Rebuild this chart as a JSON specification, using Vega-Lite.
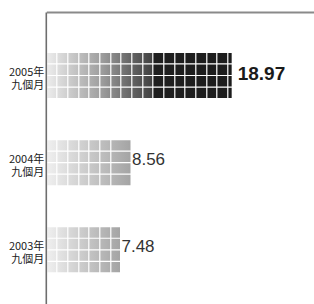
{
  "$schema": "https://vega.github.io/schema/vega-lite/v6.json",
  "width": 267,
  "height": 292,
  "autosize": {"type": "none"},
  "padding": {"left": 47.3, "top": 12, "right": 0, "bottom": 0},
  "background": "white",
  "config": {"view": {"stroke": null}},
  "data": {
    "values": [
      {"period": "2005年 九個月", "value": 18.97, "strip": 1},
      {"period": "2005年 九個月", "value": 18.97, "strip": 2},
      {"period": "2005年 九個月", "value": 18.97, "strip": 3},
      {"period": "2005年 九個月", "value": 18.97, "strip": 4},
      {"period": "2004年 九個月", "value": 8.56, "strip": 1},
      {"period": "2004年 九個月", "value": 8.56, "strip": 2},
      {"period": "2004年 九個月", "value": 8.56, "strip": 3},
      {"period": "2004年 九個月", "value": 8.56, "strip": 4},
      {"period": "2003年 九個月", "value": 7.48, "strip": 1},
      {"period": "2003年 九個月", "value": 7.48, "strip": 2},
      {"period": "2003年 九個月", "value": 7.48, "strip": 3},
      {"period": "2003年 九個月", "value": 7.48, "strip": 4}
    ]
  },
  "encoding": {
    "y": {
      "field": "period",
      "type": "nominal",
      "scale": {
        "domain": ["2005年 九個月", "2004年 九個月", "2003年 九個月"],
        "paddingInner": 0.4837,
        "paddingOuter": 0.4171,
        "align": 0.564
      },
      "axis": {
        "title": null,
        "orient": "left",
        "domain": true,
        "domainColor": "#6e6e6e",
        "domainWidth": 1.6,
        "offset": 1.5,
        "ticks": false,
        "grid": false,
        "labelPadding": 2,
        "labelFont": "Noto Sans CJK TC",
        "labelFontSize": 11,
        "labelColor": "#222222",
        "labelLineHeight": 13,
        "labelOffset": -3,
        "labelExpr": "split(datum.label, ' ')",
        "zindex": 2
      }
    },
    "x": {
      "field": "value",
      "type": "quantitative",
      "scale": {"domain": [0, 27.47], "nice": false, "zero": true},
      "axis": {
        "title": null,
        "orient": "top",
        "labels": false,
        "ticks": false,
        "domain": true,
        "domainColor": "#8a8a8a",
        "domainWidth": 2,
        "domainCap": "square",
        "grid": true,
        "gridColor": "#ffffff",
        "gridWidth": 1.2,
        "gridOpacity": 1,
        "gridDash": {"condition": {"test": "datum.value > 7.5", "value": [0, 39, 49, 400]}, "value": [0, 39, 49, 38, 49, 38, 49, 400]},
        "values": [0.967, 2.065, 3.162, 4.26, 5.358, 6.456, 7.553, 8.651, 9.749, 10.846, 11.944, 13.042, 14.139, 15.237, 16.335, 17.433, 18.53],
        "zindex": 1
      }
    }
  },
  "layer": [
    {
      "transform": [{"filter": "datum.period == '2005年 九個月'"}],
      "mark": {
        "type": "bar",
        "color": {
          "gradient": "linear",
          "x1": 0, "x2": 1, "y1": 0, "y2": 0,
          "stops": [
            {"offset": 0, "color": "#ececec"},
            {"offset": 0.3, "color": "#9c9c9c"},
            {"offset": 0.45, "color": "#666666"},
            {"offset": 0.565, "color": "#434343"},
            {"offset": 0.572, "color": "#1f1f1f"},
            {"offset": 1, "color": "#1c1c1c"}
          ]
        }
      },
      "encoding": {
        "yOffset": {"field": "strip", "type": "ordinal", "scale": {"paddingInner": 0.107, "paddingOuter": 0}}
      }
    },
    {
      "transform": [{"filter": "datum.period != '2005年 九個月'"}],
      "mark": {
        "type": "bar",
        "color": {
          "gradient": "linear",
          "x1": 0, "x2": 1, "y1": 0, "y2": 0,
          "stops": [
            {"offset": 0, "color": "#efefef"},
            {"offset": 1, "color": "#a4a4a4"}
          ]
        }
      },
      "encoding": {
        "yOffset": {"field": "strip", "type": "ordinal", "scale": {"paddingInner": 0.107, "paddingOuter": 0}}
      }
    },
    {
      "transform": [{"filter": "datum.strip == 1 && datum.period == '2005年 九個月'"}],
      "mark": {"type": "text", "align": "left", "baseline": "middle", "dx": 6, "dy": -1.5, "font": "Liberation Sans", "fontWeight": "bold", "fontSize": 19, "color": "#1a1a1a"},
      "encoding": {"text": {"field": "value", "type": "quantitative", "format": ".2f"}}
    },
    {
      "transform": [{"filter": "datum.strip == 1 && datum.period != '2005年 九個月'"}],
      "mark": {"type": "text", "align": "left", "baseline": "middle", "dx": 1.5, "dy": -3, "font": "Liberation Sans Narrow, Liberation Sans", "fontSize": 17, "color": "#333333"},
      "encoding": {"text": {"field": "value", "type": "quantitative", "format": ".2f"}}
    }
  ]
}
